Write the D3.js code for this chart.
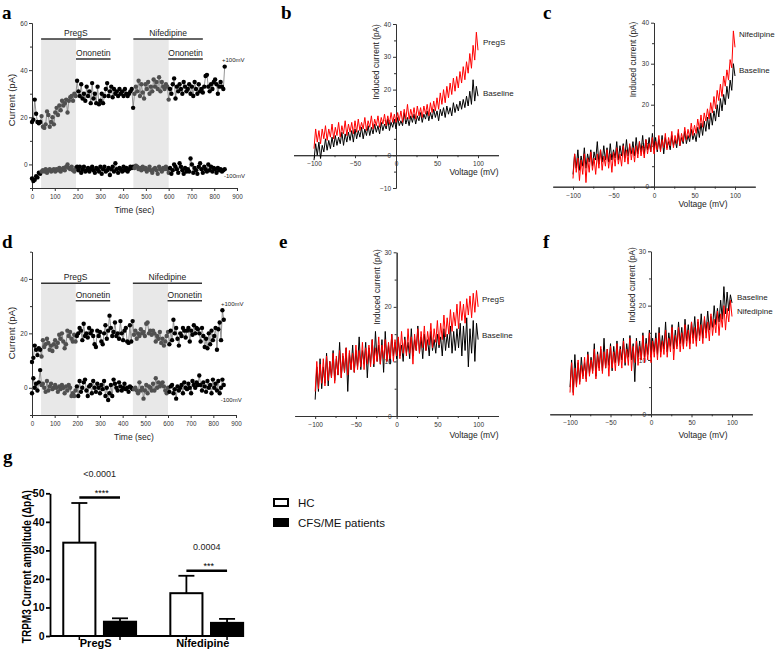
<!DOCTYPE html>
<html><head><meta charset="utf-8">
<script src="https://cdn.jsdelivr.net/npm/d3@7"></script>
<style>body{margin:0;background:#fff;} svg{display:block;}</style>
</head><body><svg id="chart" width="778" height="659"></svg>
<script>
// ---------- DATA ----------
// Time courses (one sweep every sampleStep seconds, starting at 0 s)
const sampleStep = 6;
const aPos100 = [
 18,19,27.5,21.5,18,17.5,18,20.5,
 16,15.5,17,22.5,21,16,18,20,17,
 22,24,21,25,23,27,25,26,27.5,
 22,27,28.5,29,27,30,29,35.5,
 31,29,34,28,30,27,33,29,
 31,26,34.5,28,30,26,33,25.5,
 27,30,26,29,32,34.5,29,31,
 33,28.5,32,30,31,29,32,30,
 31,29,32,30,29,30,31,32,
 24,30,33,31,35.5,29,34,30.5,
 28,34,32,35,30,33,31,36,
 33,35,32,37,31,35,33,32,
 34,33,27.5,32,30,34,36.5,28,
 33,31,34,32,30,35,33,31,
 32,34,30,33,29,35,32,30,
 34,31,32,30.5,33,37.5,38,33,
 31,34,32,35,36,34,30,33,
 35,33,32,41.5];
const aNeg100 = [
 -6,-7,-6.5,-5,-5.5,-3.5,-4,-3,
 -2.5,-3,-2,-3.5,-2.5,-2,-3,-2.5,-2,
 -3,-2,-2.5,-1.5,-3,-2,-1.5,-2.5,-1,
 0,-1.5,-2,-1,-2.5,-3,-1.5,-1,
 -2.5,-1,-3.5,-2,-1,-3,-2.5,-1.5,
 -3,-2,-1,-2.5,-3.5,-1.5,-2,-3,
 -1,-4,-2,-1,-3,-2.5,-1.5,-4.5,
 -2,-1,-3,0.5,-2,-3.5,-1.5,-2,
 -3,-1,-2.5,-1.5,-3,-2,-1,-1.5,
 -1,-1.5,-0.5,-1,-2,-1.5,-2.5,-1,
 -2,-1.5,-3,-2,-1,-2.5,-3.5,-2,
 -1.5,-2.5,-4,-1,-2,-3,-1.5,-2,
 -1,-2,-3.5,-1.5,-4,-2.5,0,-1,
 -2,-3.5,0.5,-1,-2.5,-4,-1.5,-3,
 -2,-3,2.5,0,-3.5,-1.5,-2.5,-4,
 -1,0.5,-2,-3.5,-1,-2,-3,0,
 -2.5,-1,-3,-1.5,-2,-3.5,-1.5,-2.5,
 -2,-3,-2.5,-2];
const dPos100 = [
 9.5,11,15.5,14,12,14.5,14,11.5,
 17.5,15,16,18,16.5,14,15.5,13.5,16,
 17.5,15,16.5,19.5,18,20,17,14.5,16,
 21,19,20.5,18,17,19.5,17,19,
 20,22,21,17.5,23.5,19,20,18.5,
 22,20,21,19,16,15,21,19,
 20.5,17,16,20,23,18,21,26.5,
 22,19,20.5,24,19,20,18,24.5,
 20,17.5,21,22,17,16.5,23,17,
 24.5,19.5,21,18,20,19,21.5,20,
 20.5,19,23.5,24,20,21,19.5,21,
 20,17,19,18,20.5,16.5,18,15.5,
 17,19,20.5,16,21,17.5,25,20,
 22,18,15.5,20,19,22,21,18.5,
 21,22,17,21,19.5,23,20,22,
 21.5,20,17,22,19,15,18,14.5,
 20,16,21,17.5,19,22,14,21.5,
 24,17.5,28.5,25];
const dNeg100 = [
 -2,3.5,0,1.5,-1,2,6.5,1,
 1.5,0,-1.5,2.5,-1,0.5,1.5,-0.5,0,
 1,0,-1.5,0.5,-0.5,1,0,-2,0.5,
 -1,1,0,-3,-2,-3,-1,0.5,
 -3,2.5,-1.5,0,2,3,-1,-3,
 0.5,1,-2,2.5,0,-1.5,1.5,0,
 -2,1,-0.5,2.5,-3,0,-4.5,-2,
 1,-3,3,1.5,0,-1,2,0.5,
 -1,0,1.5,-0.5,0,-1.5,0.5,0,
 -0.5,-0.5,0,-1,-2,2,-1,0,
 -4,-1,1,-2,0.5,0,-1,1.5,
 -1,3.5,0,2,0.5,1.5,2,0.5,
 -1,-2,0,-1.5,0.5,1,-2,-0.5,
 -4,0.5,-1,0,1,-2,2,0,
 -0.5,1.5,0,-2,2.5,1,0,2,
 1,4.5,1,-1,2,0.5,-1.5,2.5,
 0,1,-2,3,0,1.5,-1,2.5,
 -2,0,3,1];
const treatmentNames = ["PregS", "Ononetin", "Nifedipine", "Ononetin"];
const treatmentStart = [40, 193, 445, 598];
const treatmentEnd   = [345, 345, 750, 750];
const treatmentRow   = [0, 1, 0, 1];
const shadeStart = [40, 445];
const shadeEnd   = [193, 600];
const timeTicks = [0,100,200,300,400,500,600,700,800,900];

// I-V ramps (-100 mV to +100 mV, one value every rampStep mV)
const rampStart = -100, rampStep = 2;
const bPregS = [
 2,8,4,7.5,3.5,8,5,9,4.5,8,
 5.5,9.5,5,8.5,6,10,5.5,9,6.5,10.5,
 6,9.5,7,10,6.5,10.5,7,11,7.5,10,
 8,11.5,7.5,10.5,8.5,12,8,11,9,12,
 8.5,11.5,9.5,12.5,9,12,9.5,13,10,12.5,
 10,13,10.5,13.5,10,14,11,15.5,11,14,
 11.5,14.5,11,15,12,14.5,11.5,15,12.5,15.5,
 12,16,13,16.5,13.5,17.5,14,19,15.5,20,
 16,21,17.5,22,18.5,23.5,19.5,24,20.5,25.5,
 22,27,23,28.5,25,31,26.5,33.5,29,37.5,
 32];
const bBaseline = [
 -1.5,3.5,0,4,-1,3,1,5,1.5,4.5,
 2,5.5,2.5,6,3,5.5,3.5,7,3,6.5,
 4,7,4.5,7.5,4,8,5,7.5,5.5,8.5,
 5,8,6,9,6,8.5,6.5,9.5,7,9,
 6.5,10,7.5,9.5,8,11,7.5,10,8.5,11,
 8,11.5,9,10.5,9,13,9.5,11.5,9,12,
 10,12.5,9.5,12,10.5,13,10,12.5,11,13.5,
 10.5,13,11,14,11.5,13.5,10.5,14,12,14.5,
 11.5,15,12.5,14.5,12,16,13,15.5,13.5,16.5,
 14,17,14.5,18,15,19.5,15.5,23,16.5,21,
 18];
const cNifedipine = [
 2,8,3.5,7,1.5,6.5,3,8,1,7,
 3.5,8.5,4,7,3,8,4.5,9,4,7.5,
 5,9,4.5,8,3.5,8.5,5,9.5,5.5,8,
 5,10,6,9,5.5,10.5,6.5,9.5,6,10,
 7,11,7.5,10,7,11.5,8,10.5,8.5,12,
 8,11,9,12.5,8.5,11.5,9.5,13,9,12,
 10,13.5,9.5,12.5,10.5,14,10,13,11,14.5,
 11.5,14,12,15.5,12.5,15,13,16.5,14,17.5,
 14.5,18,16,19,16.5,20.5,18,22,19,23.5,
 21,25,22,27,24.5,28.5,26,31,29,38,
 34];
const cBaseline = [
 3,8,4.5,9,4,7.5,5,9.5,4.5,8,
 6,9,5,8.5,6.5,11,5.5,9,6,10,
 6.5,9.5,6,10.5,6.5,9,7,11,6.5,10,
 7.5,10.5,7,11.5,7.5,10,8,11,7.5,12,
 8,11,8.5,12.5,8,11.5,9,12,8.5,13,
 9,12,8.5,11.5,9,12.5,8,12,9.5,11,
 9,12.5,10,11.5,9.5,13,10,12,10.5,13.5,
 10.5,12.5,11,14,11.5,13,11,14.5,12,15.5,
 12.5,16,13.5,17,14,18,15,18.5,16,20,
 17,21.5,18.5,22.5,20,24.5,21.5,26,23.5,30,
 27];
const ePregS = [
 4.5,10,5,9.5,6,10.5,5.5,11,6.5,10,
 7,11.5,6,11,7.5,12,7,11.5,8,12.5,
 7.5,12,8.5,11.5,8,13,8.5,12,9,13.5,
 8.5,12.5,9.5,13,9,14,9.5,12.5,10,14.5,
 9.5,13,10.5,14,10,13.5,10.5,15,10,14,
 11,14.5,10.5,15.5,11.5,14,11,16,11.5,14.5,
 9.5,15,12,16,11.5,15.5,12.5,16.5,12,15.5,
 13,17,12.5,16,13.5,17.5,13,17,14,18.5,
 14.5,18,15,19.5,15.5,19,16.5,20.5,16,21,
 17.5,20.5,17,21.5,18.5,22,18,22.5,19,23,
 20];
const eBaseline = [
 3,9,4.5,10.5,5,9,6,11.5,5.5,10,
 7,12,6.5,10.5,7.5,13.5,7,11,8,12.5,
 4.5,11.5,8.5,13,8,12,9,14.5,8.5,12,
 9.5,13.5,7,12.5,9.5,14,9,15.5,10,13,
 9.5,14,8,15.5,10,13,9.5,15,11,13.5,
 10.5,14,11,13,10,14.5,11.5,13.5,10.5,16,
 11,14,12,16.5,11.5,14.5,10.5,15,12,14,
 11,15.5,12,14,11.5,15,12.5,14.5,11,16,
 12,15,12.5,16.5,11.5,15.5,12,16,12.5,17,
 11,16.5,12,18,9,16,11.5,17.5,10,17,
 14];
const fNifedipine = [
 4,9.5,3.5,8.5,5,10,5.5,9,6.5,10.5,
 6,11,7,10,7.5,12,6.5,11,8,12.5,
 7.5,11.5,8.5,12,7,12.5,8.5,11.5,8,13,
 9,12,8.5,13.5,9.5,12,9,14,8,12.5,
 9.5,13.5,9,12.5,10,14.5,9.5,13,10,15,
 9.5,13.5,10.5,14,10,15,10.5,13.5,11,15.5,
 10.5,14,11.5,16,10,14.5,12,16,11.5,15,
 12,16.5,12.5,15.5,12,17,13,16,12.5,17.5,
 13.5,16.5,13,18,14,17,13.5,18.5,14.5,17.5,
 15,19,14.5,18.5,16,20,15.5,19.5,17,21,
 18];
const fBaseline = [
 5,10,4,11,5.5,9.5,6,10.5,7,9.5,
 6.5,11.5,7.5,10.5,8,13,7,11.5,8.5,12,
 8,14,8.5,12,9,13,8,12.5,9.5,13.5,
 9,12.5,10,14,9,13,10.5,14.5,10,13,
 6,14,10.5,13.5,10,15,10.5,14,11,15.5,
 10.5,14,11.5,15,11,16,11.5,14.5,12,17,
 11.5,15,12.5,16.5,12,15.5,12.5,17,13,16,
 12.5,17.5,13.5,16.5,13,17,14,18,13.5,17,
 14.5,18.5,14,17.5,15,19,15.5,18,16,20,
 16.5,19.5,17,21,17.5,23.5,18.5,22.5,19,22,
 20.5];

// Bar chart (panel g)
const gGroups = ["PregS", "Nifedipine"];
const gSubgroups = ["HC", "CFS/ME patients"];
const hcMean  = [32.7, 15.0];
const hcSD    = [13.9, 6.1];
const cfsMean = [5.0, 4.6];
const cfsSD   = [1.2, 1.4];
const pValues = ["<0.0001", "0.0004"];
const pStars  = ["****", "***"];
const sigLevel = [48.5, 22.9];
const gTicks = [0, 10, 20, 30, 40, 50];

// ---------- DRAWING ----------
const FONT = "Arial, 'Liberation Sans', sans-serif";
const SERIF = "'Liberation Serif', 'DejaVu Serif', serif";
const svg = d3.select("#chart").attr("font-family", FONT);

function styleAxis(g, fs, color, sw) {
  g.selectAll("path,line").attr("stroke", color || "#333").attr("stroke-width", sw || 1);
  g.selectAll("text").attr("fill", color || "#333").attr("font-size", fs).attr("font-family", FONT);
}
function letter(t, x, y) {
  svg.append("text").attr("x", x).attr("y", y).attr("font-family", SERIF)
    .attr("font-weight", "bold").attr("font-size", 19).text(t);
}
function rotLabel(t, x, y, fs) {
  return svg.append("text").attr("transform", `translate(${x},${y}) rotate(-90)`)
    .attr("text-anchor", "middle").attr("dy", "0.35em").attr("font-size", fs).attr("fill", "#222").text(t);
}

function timePanel(p) {
  const x = d3.scaleLinear().domain([0, 900]).range([p.left, p.right]);
  const y = d3.scaleLinear().domain(p.yDomain).range([p.bottom, p.top]);
  const g = svg.append("g");
  shadeStart.forEach((s, i) => {
    g.append("rect").attr("x", x(s)).attr("width", x(shadeEnd[i]) - x(s))
      .attr("y", p.barY[0]).attr("height", p.bottom - p.barY[0]).attr("fill", "#e8e8e8");
  });
  treatmentNames.forEach((name, i) => {
    const yy = p.barY[treatmentRow[i]];
    g.append("line").attr("x1", x(treatmentStart[i])).attr("x2", x(treatmentEnd[i]))
      .attr("y1", yy).attr("y2", yy).attr("stroke", "#333").attr("stroke-width", 1.6);
    g.append("text").attr("x", (x(treatmentStart[i]) + x(treatmentEnd[i])) / 2).attr("y", yy - 3)
      .attr("text-anchor", "middle").attr("font-size", 8.5).attr("fill", "#222").text(name);
  });
  const xa = g.append("g").attr("transform", `translate(0,${p.bottom})`)
    .call(d3.axisBottom(x).tickValues(timeTicks).tickSize(3).tickPadding(3.5).tickSizeOuter(0));
  styleAxis(xa, 6.3);
  const ya = g.append("g").attr("transform", `translate(${p.left},0)`)
    .call(d3.axisLeft(y).tickValues(p.yMajor).tickSize(3).tickPadding(1.5).tickSizeOuter(0));
  styleAxis(ya, 6.5);
  const ym = g.append("g").attr("transform", `translate(${p.left},0)`)
    .call(d3.axisLeft(y).tickValues(p.yMinor).tickSize(2).tickFormat("").tickSizeOuter(0));
  styleAxis(ym, 6);
  const inShade = t => shadeStart.some((s, i) => t >= s && t <= shadeEnd[i]);
  [p.pos, p.neg].forEach(vals => {
    const pts = vals.map((v, i) => [i * sampleStep, v]);
    g.append("path").datum(pts).attr("fill", "none").attr("stroke", "#7a7a7a").attr("stroke-width", 0.8)
      .attr("d", d3.line().x(d => x(d[0])).y(d => y(d[1])));
    g.selectAll(null).data(pts).join("circle")
      .attr("cx", d => x(d[0])).attr("cy", d => y(d[1])).attr("r", 2.2)
      .attr("fill", d => inShade(d[0]) ? "#505050" : "#000");
  });
  g.append("text").attr("x", p.posLab[0]).attr("y", p.posLab[1]).attr("font-size", 6).attr("fill", "#222").text("+100mV");
  g.append("text").attr("x", p.negLab[0]).attr("y", p.negLab[1]).attr("font-size", 6).attr("fill", "#222").text("-100mV");
  g.append("text").attr("x", (p.left + p.right) / 2).attr("y", p.xTitleY).attr("text-anchor", "middle")
    .attr("font-size", 8.5).attr("fill", "#222").text("Time (sec)");
  rotLabel("Current (pA)", 12, p.yTitleY, 9.5);
}

function ivPanel(p) {
  const x = d3.scaleLinear().domain([-125, 125]).range([p.left, p.right]);
  const y = d3.scaleLinear().domain(p.yDomain).range([p.bottom, p.top]);
  const g = svg.append("g");
  const xa = g.append("g").attr("transform", `translate(0,${y(0)})`)
    .call(d3.axisBottom(x).tickValues([-100, -50, 0, 50, 100]).tickSize(3).tickPadding(3.5).tickSizeOuter(0));
  styleAxis(xa, 6.5);
  const xm = g.append("g").attr("transform", `translate(0,${y(0)})`)
    .call(d3.axisBottom(x).tickValues([-75, -25, 25, 75]).tickSize(2).tickFormat("").tickSizeOuter(0));
  styleAxis(xm, 6);
  const ya = g.append("g").attr("transform", `translate(${x(0)},0)`)
    .call(d3.axisLeft(y).tickValues(p.yMajor).tickSize(3).tickPadding(2).tickSizeOuter(0));
  styleAxis(ya, 6.5);
  const ym = g.append("g").attr("transform", `translate(${x(0)},0)`)
    .call(d3.axisLeft(y).tickValues(p.yMinor).tickSize(2).tickFormat("").tickSizeOuter(0));
  styleAxis(ym, 6);
  const line = d3.line().x((d, i) => x(rampStart + i * rampStep)).y(d => y(d));
  g.append("path").datum(p.base).attr("fill", "none").attr("stroke", "#000").attr("stroke-width", 1).attr("d", line);
  g.append("path").datum(p.drug).attr("fill", "none").attr("stroke", "#ff0000").attr("stroke-width", 1).attr("d", line);
  p.labels.forEach(l => g.append("text").attr("x", l[1]).attr("y", l[2]).attr("font-size", 8).attr("fill", "#222").text(l[0]));
  g.append("text").attr("x", p.vLab[0]).attr("y", p.vLab[1]).attr("text-anchor", "middle")
    .attr("font-size", 8.5).attr("fill", "#222").text("Voltage (mV)");
  rotLabel("Induced current (pA)", p.iLab[0], p.iLab[1], 8.3);
}

// Panel a and d
timePanel({left: 32, right: 237, top: 23, bottom: 188, yDomain: [-10, 60], yMajor: [0, 20, 40, 60], yMinor: [-10, 10, 30, 50],
  barY: [39, 59], pos: aPos100, neg: aNeg100, posLab: [222, 62], negLab: [224, 178], xTitleY: 213, yTitleY: 100});
timePanel({left: 32, right: 236, top: 251.7, bottom: 415, yDomain: [-10, 50], yMajor: [0, 20, 40], yMinor: [-10, 10, 30, 50],
  barY: [283.3, 300.7], pos: dPos100, neg: dNeg100, posLab: [221, 305.5], negLab: [220.7, 402], xTitleY: 440, yTitleY: 333});

// Panels b, c, e, f
ivPanel({left: 293.5, right: 498.5, top: 24, bottom: 188, yDomain: [-10, 40], yMajor: [-10, 0, 10, 20, 30, 40], yMinor: [-5, 5, 15, 25, 35],
  base: bBaseline, drug: bPregS, labels: [["PregS", 483, 45], ["Baseline", 483, 96]], vLab: [474, 175], iLab: [376, 62]});
ivPanel({left: 552.75, right: 755.25, top: 22.7, bottom: 186.7, yDomain: [0, 40], yMajor: [0, 10, 20, 30, 40], yMinor: [5, 15, 25, 35],
  base: cBaseline, drug: cNifedipine, labels: [["Nifedipine", 739, 37], ["Baseline", 739, 73]], vLab: [703, 207], iLab: [633, 59.5]});
ivPanel({left: 294.8, right: 498.5, top: 252.3, bottom: 416, yDomain: [0, 30], yMajor: [0, 10, 20, 30], yMinor: [5, 15, 25],
  base: eBaseline, drug: ePregS, labels: [["PregS", 482, 302], ["Baseline", 482, 338]], vLab: [474, 438], iLab: [377, 287]});
ivPanel({left: 549.75, right: 752.25, top: 251.3, bottom: 414.3, yDomain: [0, 30], yMajor: [0, 10, 20, 30], yMinor: [5, 15, 25],
  base: fBaseline, drug: fNifedipine, labels: [["Baseline", 737, 300], ["Nifedipine", 737, 314]], vLab: [703, 438], iLab: [632, 285]});

// Panel g
(function () {
  const x0 = d3.scaleBand().domain(gGroups).range([50, 256.4]).paddingInner(0.32).paddingOuter(0.124);
  const x1 = d3.scaleBand().domain(gSubgroups).range([0, x0.bandwidth()]).paddingInner(0.21);
  const y = d3.scaleLinear().domain([0, 50]).range([636, 493.3]);
  const g = svg.append("g");
  const series = [
    {key: "HC", mean: hcMean, sd: hcSD, fill: "#fff"},
    {key: "CFS/ME patients", mean: cfsMean, sd: cfsSD, fill: "#000"}
  ];
  series.forEach(s => {
    gGroups.forEach((grp, i) => {
      const bx = x0(grp) + x1(s.key), bw = x1.bandwidth(), cx = bx + bw / 2;
      g.append("line").attr("x1", cx).attr("x2", cx).attr("y1", y(s.mean[i])).attr("y2", y(s.mean[i] + s.sd[i]))
        .attr("stroke", "#000").attr("stroke-width", 1.8);
      g.append("line").attr("x1", cx - 8).attr("x2", cx + 8).attr("y1", y(s.mean[i] + s.sd[i])).attr("y2", y(s.mean[i] + s.sd[i]))
        .attr("stroke", "#000").attr("stroke-width", 1.8);
      g.append("rect").attr("x", bx).attr("y", y(s.mean[i])).attr("width", bw).attr("height", y(0) - y(s.mean[i]))
        .attr("fill", s.fill).attr("stroke", "#000").attr("stroke-width", 2);
      g.append("line").attr("x1", cx).attr("x2", cx).attr("y1", y(0)).attr("y2", y(0) + 4).attr("stroke", "#000").attr("stroke-width", 1.5);
    });
  });
  g.append("line").attr("x1", 50).attr("x2", 243).attr("y1", y(0)).attr("y2", y(0)).attr("stroke", "#000").attr("stroke-width", 2);
  const ya = g.append("g").attr("transform", "translate(50,0)")
    .call(d3.axisLeft(y).tickValues(gTicks).tickSize(4).tickPadding(1.5).tickSizeOuter(0));
  styleAxis(ya, 10.5, "#000", 1.8);
  ya.selectAll("text").attr("font-weight", "bold");
  gGroups.forEach((grp, i) => {
    const c0 = x0(grp) + x1("HC") + x1.bandwidth() / 2;
    const c1 = x0(grp) + x1("CFS/ME patients") + x1.bandwidth() / 2;
    const ly = y(sigLevel[i]);
    g.append("line").attr("x1", c0).attr("x2", c1).attr("y1", ly).attr("y2", ly).attr("stroke", "#000").attr("stroke-width", 2.5);
    g.append("text").attr("x", (c0 + c1) / 2 + 2).attr("y", ly - 1.6).attr("text-anchor", "middle").attr("font-size", 9).text(pStars[i]);
    g.append("text").attr("x", (c0 + c1) / 2).attr("y", ly - 20.5).attr("text-anchor", "middle").attr("font-size", 9).attr("fill", "#222").text(pValues[i]);
    g.append("text").attr("x", x0(grp) + x0.bandwidth() / 2 - 4).attr("y", 646.5).attr("text-anchor", "middle")
      .attr("font-size", 11).attr("font-weight", "bold").text(grp);
  });
  rotLabel("TRPM3 Current amplitude (\u0394pA)", 27, 566.7, 12.5)
    .attr("font-weight", "bold").attr("fill", "#000").attr("textLength", 153).attr("lengthAdjust", "spacingAndGlyphs");
  // legend
  series.forEach((s, i) => {
    const ly = 499 + i * 20;
    svg.append("rect").attr("x", 274).attr("y", ly).attr("width", 14).attr("height", 7)
      .attr("fill", s.fill).attr("stroke", "#000").attr("stroke-width", 2);
    svg.append("text").attr("x", 298).attr("y", ly + 7.7).attr("font-size", 11.5).attr("fill", "#111").text(gSubgroups[i]);
  });
})();

letter("a", 2, 19); letter("b", 281, 19); letter("c", 543, 19);
letter("d", 2, 248); letter("e", 279, 248); letter("f", 543, 248);
letter("g", 3, 463);
</script></body></html>
